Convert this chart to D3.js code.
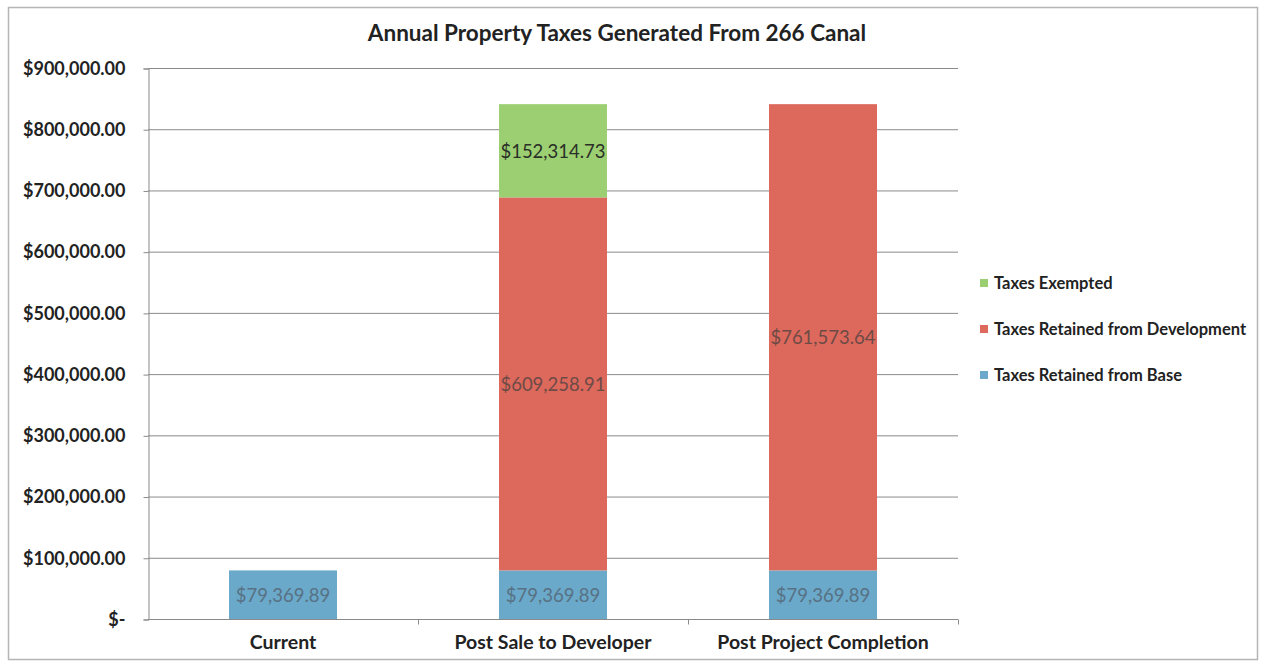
<!DOCTYPE html>
<html>
<head>
<meta charset="utf-8">
<script src="https://cdn.jsdelivr.net/npm/d3@7"></script>
<style>
  body { margin: 0; background: #fff; }
  svg { font-family: Lato, "Open Sans", sans-serif; }
</style>
</head>
<body>
<svg width="1262" height="662"></svg>
<script>
// chart data
const categories = ['Current', 'Post Sale to Developer', 'Post Project Completion'];
const seriesNames = ['Taxes Retained from Base', 'Taxes Retained from Development', 'Taxes Exempted'];
const retainedBase = [79369.89, 79369.89, 79369.89];
const retainedDev = [0, 609258.91, 761573.64];
const exempted = [0, 152314.73, 0];
const yTicks = [0, 100000, 200000, 300000, 400000, 500000, 600000, 700000, 800000, 900000];

const colors = ['#6aa9c9', '#dc695b', '#9ccf72'];
const labelColors = ['#587184', '#6e4a47', '#2a2f28'];

const svg = d3.select('svg');

// outer frame
svg.append('rect')
  .attr('x', 8.5).attr('y', 7.5)
  .attr('width', 1249).attr('height', 652)
  .style('fill', 'none')
  .style('stroke', '#b5b5b5')
  .style('stroke-width', 1.5);

svg.append('text')
  .attr('x', 617).attr('y', 41)
  .attr('text-anchor', 'middle')
  .style('font-size', '22.5px')
  .style('font-weight', 'bold')
  .style('fill', '#222')
  .text('Annual Property Taxes Generated From 266 Canal');

const plotLeft = 148, plotRight = 958, plotTop = 68, plotBottom = 619;

const x = d3.scaleBand().domain(categories).range([plotLeft, plotRight]).paddingInner(0.6).paddingOuter(0.3);
const y = d3.scaleLinear().domain([0, 900000]).range([plotBottom, plotTop]);

// gridlines
svg.append('g')
  .selectAll('line')
  .data(yTicks)
  .enter().append('line')
  .attr('x1', plotLeft).attr('x2', plotRight)
  .attr('y1', d => y(d) + 0.5).attr('y2', d => y(d) + 0.5)
  .style('stroke', '#8a8a8a')
  .style('stroke-width', 1);

// stacked bars
const rows = categories.map((c, i) => ({ cat: c, base: retainedBase[i], dev: retainedDev[i], ex: exempted[i] }));
const stack = d3.stack().keys(['base', 'dev', 'ex'])(rows);

const layers = svg.append('g').selectAll('g')
  .data(stack)
  .enter().append('g')
  .style('fill', (d, i) => colors[i]);

layers.selectAll('rect')
  .data(d => d.filter(p => p[1] - p[0] > 0))
  .enter().append('rect')
  .attr('x', d => x(d.data.cat))
  .attr('width', x.bandwidth())
  .attr('y', d => y(d[1]))
  .attr('height', d => y(d[0]) - y(d[1]));

const fmt = d3.format('$,.2f');
stack.forEach((layer, i) => {
  svg.append('g').selectAll('text')
    .data(layer.filter(d => d[1] - d[0] > 0))
    .enter().append('text')
    .attr('x', d => x(d.data.cat) + x.bandwidth() / 2)
    .attr('y', d => (y(d[0]) + y(d[1])) / 2 + 7)
    .attr('text-anchor', 'middle')
    .style('font-size', '18.5px')
    .style('fill', labelColors[i])
    .text(d => fmt(d[1] - d[0]));
});

// y axis
const yAxis = d3.axisLeft(y)
  .tickValues(yTicks)
  .tickSize(5)
  .tickFormat(d => d === 0 ? '$-' : fmt(d));
const ya = svg.append('g')
  .attr('transform', `translate(${plotLeft + 0.5},0.5)`)
  .call(yAxis);
ya.select('.domain').style('stroke', '#8a8a8a');
ya.selectAll('.tick line').style('stroke', '#8a8a8a');
ya.selectAll('.tick text')
  .attr('x', -23)
  .style('font-family', 'Lato, "Open Sans", sans-serif')
  .style('font-size', '18px')
  .style('font-weight', 'bold')
  .style('fill', '#222');

// x axis
const xAxis = d3.axisBottom(x).tickSize(0).tickPadding(16);
const xa = svg.append('g')
  .attr('transform', `translate(0,${plotBottom + 0.5})`)
  .call(xAxis);
xa.select('.domain').remove();
xa.selectAll('.tick text')
  .style('font-family', 'Lato, "Open Sans", sans-serif')
  .style('font-size', '19.5px')
  .style('font-weight', 'bold')
  .style('fill', '#222');
// category separators
const bounds = [plotLeft + 270, plotLeft + 540, plotRight];
xa.selectAll('.sep')
  .data(bounds)
  .enter().append('line')
  .attr('x1', d => d + 0.5).attr('x2', d => d + 0.5)
  .attr('y1', 0).attr('y2', 5)
  .style('stroke', '#8a8a8a');

// legend
const legendItems = [2, 1, 0];
const legend = svg.append('g').selectAll('g')
  .data(legendItems)
  .enter().append('g')
  .attr('transform', (d, i) => `translate(980,${283 + i * 46})`);
legend.append('rect')
  .attr('x', 0).attr('y', -4)
  .attr('width', 8).attr('height', 8)
  .style('fill', d => colors[d]);
legend.append('text')
  .attr('x', 14).attr('y', 6)
  .style('font-size', '16.5px')
  .style('font-weight', 'bold')
  .style('fill', '#222')
  .text(d => seriesNames[d]);
</script>
</body>
</html>
